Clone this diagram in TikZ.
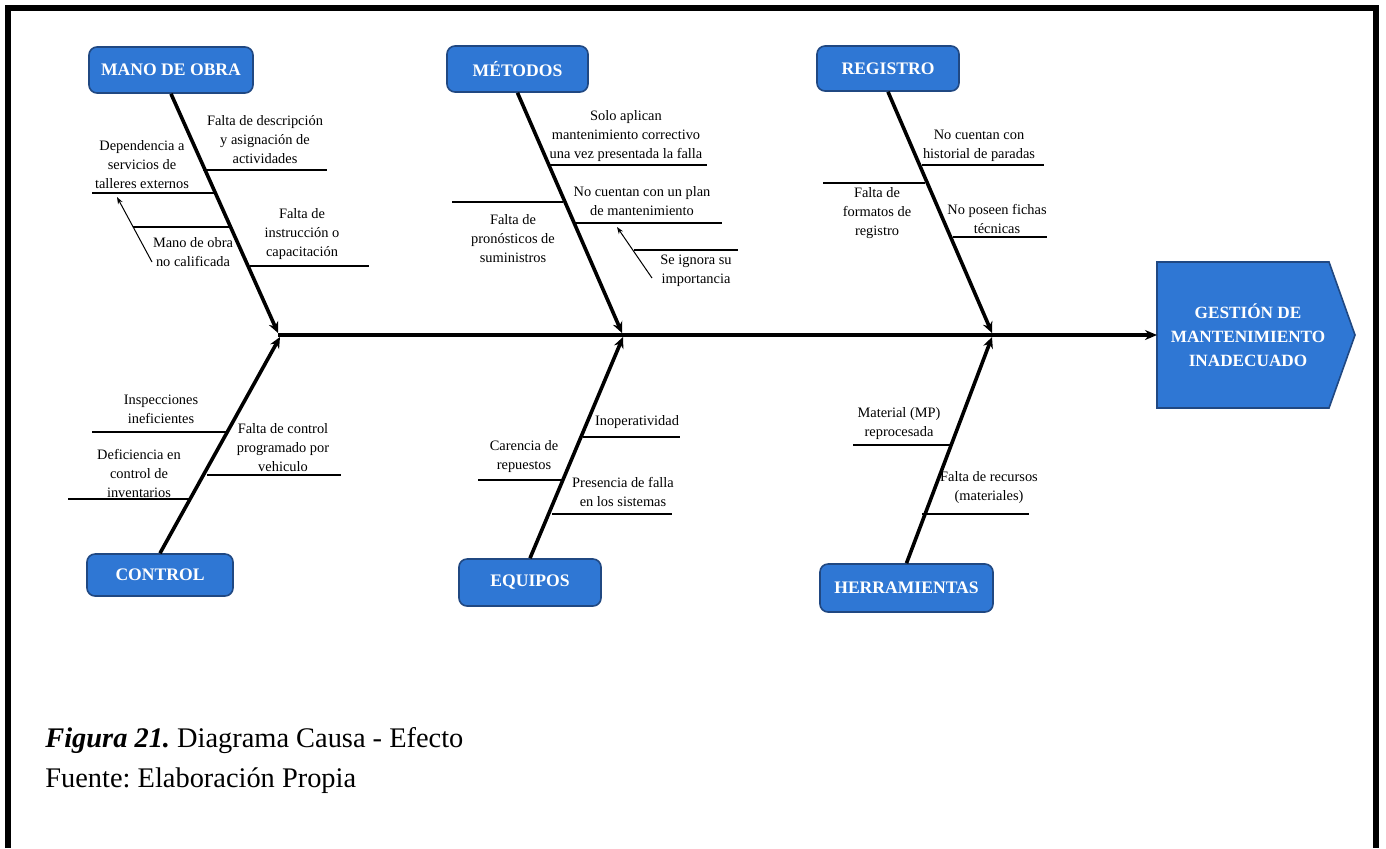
\documentclass[tikz,border=0pt]{standalone}
\usepackage{fontspec}
\setmainfont{Liberation Serif}
\usetikzlibrary{arrows.meta}
\definecolor{boxblue}{RGB}{47,119,212}
\definecolor{boxedge}{RGB}{32,72,130}
\frenchspacing
\begin{document}
\begin{tikzpicture}[x=0.5pt,y=-0.5pt,
 catbox/.style={draw=boxedge, line width=0.8pt, fill=boxblue, rounded corners=4pt, text=white, font=\fontsize{8.8}{10}\selectfont\bfseries, inner sep=0pt},
 effbox/.style={draw=boxedge, line width=0.8pt, fill=boxblue},
 efftext/.style={text=white, align=center, font=\fontsize{8.6}{12}\selectfont\bfseries, inner sep=0pt},
 cause/.style={align=center, font=\fontsize{7.2}{9.5}\selectfont, inner sep=0pt},
 bone/.style={line width=1.8pt, -{Stealth[length=5.5pt,width=5pt]}},
 spine/.style={line width=2pt, -{Stealth[length=6pt,width=5pt]}},
 sub/.style={line width=0.6pt},
 pointer/.style={line width=0.5pt, -{Stealth[length=3.5pt,width=2.5pt]}},
 frameline/.style={line width=3pt, line join=miter},
 caption/.style={anchor=base west, inner sep=0pt, font=\fontsize{14.2}{17}\selectfont}]

\useasboundingbox (0,0) rectangle (1386,848);

% frame
\draw[frameline] (8,848) -- (8,8) -- (1375.5,8) -- (1375.5,848);

% categories
\node[catbox, minimum width=82pt, minimum height=23pt] (mano) at (171,70) {MANO DE OBRA};
\node[catbox, minimum width=70.5pt, minimum height=23pt] (metodos) at (517.5,69) {MÉTODOS};
\node[catbox, minimum width=71pt, minimum height=22.5pt] (registro) at (888,68.5) {REGISTRO};
\node[catbox, minimum width=73pt, minimum height=21pt] (control) at (160,575) {CONTROL};
\node[catbox, minimum width=71pt, minimum height=23.5pt] (equipos) at (530,582.5) {EQUIPOS};
\node[catbox, minimum width=86.5pt, minimum height=24pt] (herram) at (906.5,588) {HERRAMIENTAS};

% effect
\draw[effbox] (1157,262) -- (1329,262) -- (1355,335) -- (1329,408) -- (1157,408) -- cycle;
\node[efftext] (effect) at (1248,335) {GESTIÓN DE\\MANTENIMIENTO\\INADECUADO};

% spine
\coordinate (sp0) at (278,335);
\coordinate (effin) at (1157,335);
\draw[spine] (sp0) -- (effin);

% bones
\coordinate (j1) at (278,333);
\coordinate (j2) at (622,333);
\coordinate (j3) at (992,333);
\coordinate (j4) at (280,337);
\coordinate (j5) at (623,337);
\coordinate (j6) at (992,337);
\draw[bone] (mano.south) -- (j1);
\draw[bone] (metodos.south) -- (j2);
\draw[bone] (registro.south) -- (j3);
\draw[bone] (control.north) -- (j4);
\draw[bone] (equipos.north) -- (j5);
\draw[bone] (herram.north) -- (j6);

% --- Mano de obra
\draw[sub] (203,170) -- (327,170);
\node[cause] (m1) at (265,140) {Falta de descripción\\y asignación de\\actividades};
\draw[sub] (92,193) -- (215,193);
\node[cause] (m2) at (142,165) {Dependencia a\\servicios de\\talleres externos};
\draw[sub] (133,227) -- (230,227);
\node[cause] (m3) at (193,252.5) {Mano de obra\\no calificada};
\coordinate (m3a) at (152,262);
\coordinate (m2a) at (117,197);
\draw[pointer] (m3a) -- (m2a);
\draw[sub] (250,266) -- (369,266);
\node[cause] (m4) at (302,234) {Falta de\\instrucción o\\capacitación};

% --- Métodos
\draw[sub] (550,165) -- (707,165);
\node[cause] (t1) at (626,136.5) {Solo aplican\\mantenimiento correctivo\\una vez presentada la falla};
\draw[sub] (575,223) -- (722,223);
\node[cause] (t2) at (642,201.5) {No cuentan con un plan\\de mantenimiento};
\draw[sub] (452,202) -- (563,202);
\node[cause] (t3) at (513,238.5) {Falta de\\pronósticos de\\suministros};
\draw[sub] (634,250) -- (738,250);
\node[cause] (t4) at (696,271) {Se ignora su\\importancia};
\coordinate (t4a) at (652,278);
\coordinate (t2a) at (617,227);
\draw[pointer] (t4a) -- (t2a);

% --- Registro
\draw[sub] (922,165) -- (1044,165);
\node[cause] (r1) at (979,146) {No cuentan con\\historial de paradas};
\draw[sub] (823,183) -- (925,183);
\node[cause] (r2) at (877,213) {Falta de\\formatos de\\registro};
\draw[sub] (953,237) -- (1047,237);
\node[cause] (r3) at (997,218.5) {No poseen fichas\\técnicas};

% --- Control
\draw[sub] (92,432) -- (227,432);
\node[cause] (c1) at (161,409.5) {Inspecciones\\ineficientes};
\draw[sub] (68,499) -- (190,499);
\node[cause] (c2) at (139,473) {Deficiencia en\\control de\\inventarios};
\draw[sub] (207,475) -- (341,475);
\node[cause] (c3) at (283,447.5) {Falta de control\\programado por\\vehiculo};

% --- Equipos
\draw[sub] (583,437) -- (680,437);
\node[cause] (e1) at (637,422) {Inoperatividad};
\draw[sub] (478,480) -- (562,480);
\node[cause] (e2) at (524,456.5) {Carencia de\\repuestos};
\draw[sub] (552,514) -- (672,514);
\node[cause] (e3) at (623,492) {Presencia de falla\\en los sistemas};

% --- Herramientas
\draw[sub] (853,445) -- (950,445);
\node[cause] (h1) at (899,424) {Material (MP)\\reprocesada};
\draw[sub] (922,514) -- (1029,514);
\node[cause] (h2) at (989,487.5) {Falta de recursos\\(materiales)};

% caption
\node[caption] (cap1) at (45,747) {\textbf{\textit{Figura 21.}} Diagrama Causa - Efecto};
\node[caption] (cap2) at (45,787) {Fuente: Elaboración Propia};
\end{tikzpicture}
\end{document}
